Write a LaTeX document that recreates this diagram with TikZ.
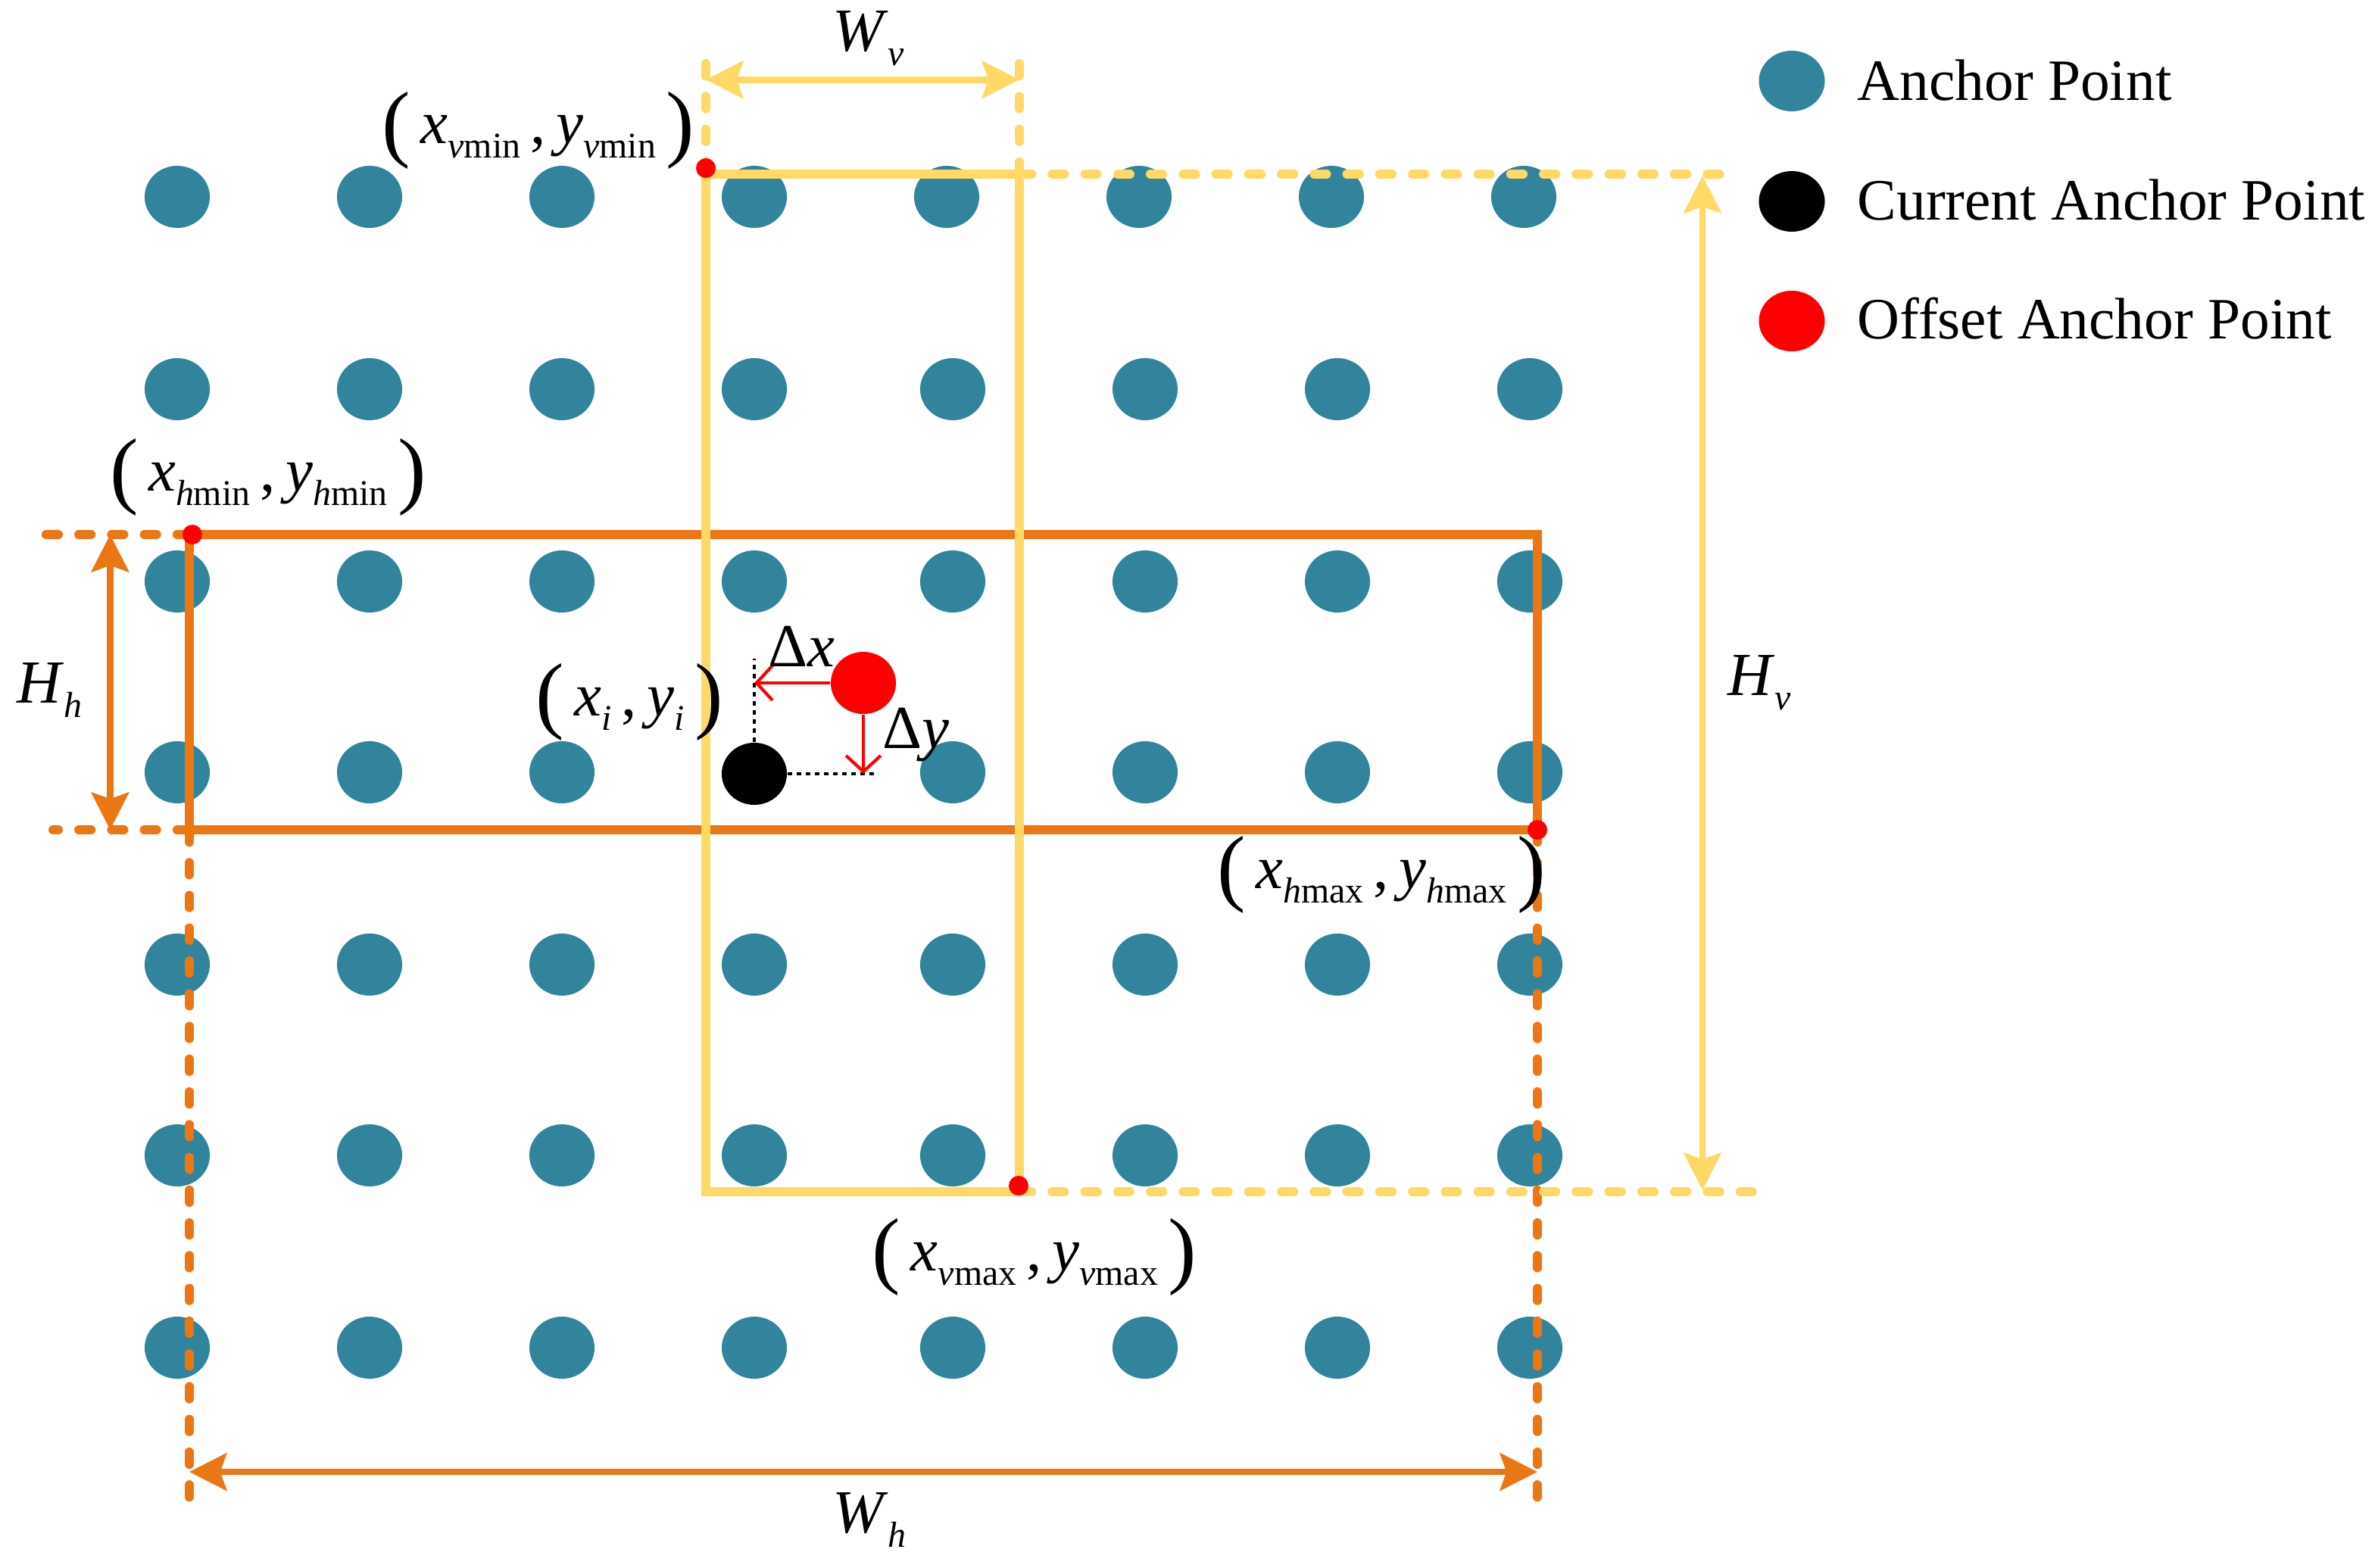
\documentclass[tikz,border=0pt]{standalone}
\usepackage{fontspec}
\setmainfont{Liberation Serif}
\usetikzlibrary{arrows.meta,shapes.geometric}
\definecolor{anc}{RGB}{49,132,155}
\definecolor{yel}{RGB}{255,217,102}
\definecolor{org}{RGB}{235,118,20}
\newcommand\Lpr{\raisebox{-1.4pt}{\fontsize{16}{16}\selectfont(}}
\newcommand\Rpr{\raisebox{-1.4pt}{\fontsize{16}{16}\selectfont)}}
\newcommand\Sb[1]{\raisebox{-2.7pt}{\fontsize{6.8}{7}\selectfont #1}}
\newcommand\Mx{\fontsize{11.5}{13}\selectfont}
\begin{document}
\begin{tikzpicture}[x=0.01cm,y=-0.01cm,
  apt/.style={ellipse, fill=anc, minimum width=0.43cm, minimum height=0.41cm, inner sep=0pt},
  cpt/.style={apt, fill=black},
  opt/.style={apt, fill=red},
  lgdot/.style={ellipse, minimum width=0.435cm, minimum height=0.40cm, inner sep=0pt},
  corner/.style={circle, fill=red, minimum size=0.13cm, inner sep=0pt},
  yrect/.style={draw=yel, line width=1.75pt},
  orect/.style={draw=org, line width=1.75pt},
  ydash/.style={draw=yel, line width=1.7pt, line cap=round, dash pattern=on 2.3pt off 3.85pt},
  odash/.style={draw=org, line width=1.7pt, line cap=round, dash pattern=on 2.3pt off 3.85pt},
  yarr/.style={draw=yel, line width=1.25pt, {Stealth[length=7pt,width=7pt,inset=1.2pt]}-{Stealth[length=7pt,width=7pt,inset=1.2pt]}},
  oarr/.style={draw=org, line width=1.25pt, {Stealth[length=7pt,width=7pt,inset=1.2pt]}-{Stealth[length=7pt,width=7pt,inset=1.2pt]}},
  rarr/.style={draw=red, line width=0.6pt, -{Straight Barb[length=3pt,width=6.5pt]}},
  dotln/.style={draw=black, line width=0.5pt, dash pattern=on 0.8pt off 0.9pt},
  lab/.style={inner sep=0pt, font=\Mx},
  lgtext/.style={inner sep=0pt, anchor=base west, font=\fontsize{11}{13}\selectfont}]
\useasboundingbox (0,0) rectangle (1568,1035.5);

% ---- anchor grid ----
\foreach \c/\x in {1/117,2/244,3/371,4/498,5/625,6/752,7/879,8/1006}
  \node[apt] (p-1-\c) at (\x,130) {};
\foreach \r/\y in {2/257,3/384,4/510,5/637,6/763,7/890}
  \foreach \c/\x in {1/117,2/244,3/371,4/498,5/629,6/756,7/883,8/1010}{
    \ifnum\r=4 \ifnum\c=4 \else \node[apt] (p-\r-\c) at (\x,\y) {}; \fi
    \else \node[apt] (p-\r-\c) at (\x,\y) {}; \fi
  }
\node[cpt] (cur) at (498,511) {};
\node[opt] (off) at (570,451) {};

% ---- corner coordinates ----
\coordinate (hTL) at (125,353);
\coordinate (hTR) at (1015,353);
\coordinate (hBR) at (1015,548);
\coordinate (hBL) at (125,548);
\coordinate (vTL) at (466,115);
\coordinate (vTR) at (673,115);
\coordinate (vBR) at (673,787);
\coordinate (vBL) at (466,787);

% ---- orange (horizontal) box ----
\draw[odash] (hTL) -- (28,353);
\draw[odash] (hBL) -- (35,548);
\draw[odash] (hBL) -- (125,997);
\draw[odash] (hBR) -- (1015,997);
\draw[orect] (hTL) -- (hTR) -- (hBR) -- (hBL) -- cycle;
\coordinate (hhT) at (72.7,353);
\coordinate (hhB) at (72.7,548);
\draw[oarr] (hhT) -- (hhB);
\coordinate (whL) at (125,972);
\coordinate (whR) at (1015,972);
\draw[oarr] (whL) -- (whR);

% ---- yellow (vertical) box ----
\draw[ydash] (vTR) -- (1144,115);
\draw[ydash] (vBR) -- (1163,787);
\draw[ydash] (vTL) -- (466,40);
\draw[ydash] (vTR) -- (673,40);
\draw[yrect] (vTL) -- (vTR) -- (vBR) -- (vBL) -- cycle;
\coordinate (wvL) at (466,52.6);
\coordinate (wvR) at (673,52.6);
\draw[yarr] (wvL) -- (wvR);
\coordinate (hvT) at (1124,116);
\coordinate (hvB) at (1124,786);
\draw[yarr] (hvT) -- (hvB);

% ---- corner markers ----
\node[corner] (cvmin) at (466,111) {};
\node[corner] (chmin) at (127,353) {};
\node[corner] (chmax) at (1015,548) {};
\node[corner] (cvmax) at (672.5,783) {};

% ---- offset construction ----
\coordinate (dxEnd) at (498,451);
\coordinate (dyEnd) at (570,511);
\coordinate (vdTop) at (498,435);
\coordinate (hdEnd) at (580,511);
\draw[dotln] (cur.north) -- (vdTop);
\draw[dotln] (cur.east) -- (hdEnd);
\draw[rarr] (off.west) -- (dxEnd);
\draw[rarr] (off.south) -- (dyEnd);

% ---- labels ----
\node[lab, anchor=base] (lvmin) at (355.5,94.7) {\Lpr\,\textit{x}\Sb{\textit{v}min}\,,\,\textit{y}\Sb{\textit{v}min}\,\Rpr};
\node[lab, anchor=base] (lhmin) at (177,324) {\Lpr\,\textit{x}\Sb{\textit{h}min}\,,\,\textit{y}\Sb{\textit{h}min}\,\Rpr};
\node[lab, anchor=base] (lhmax) at (912,586.5) {\Lpr\,\textit{x}\Sb{\textit{h}max}\,,\,\textit{y}\Sb{\textit{h}max}\,\Rpr};
\node[lab, anchor=base] (lvmax) at (683,839) {\Lpr\,\textit{x}\Sb{\textit{v}max}\,,\,\textit{y}\Sb{\textit{v}max}\,\Rpr};
\node[lab, anchor=base] (lxi) at (415.5,472.5) {\Lpr\,\textit{x}\Sb{\textit{i}}\,,\,\textit{y}\Sb{\textit{i}}\,\Rpr};
\node[lab, anchor=base west] (ldx) at (506.6,440) {Δ\textit{x}};
\node[lab, anchor=base west] (ldy) at (582,494) {Δ\textit{y}};
\node[lab, anchor=base west] (lwv) at (549,33.5) {\textit{W}\Sb{\textit{v}}};
\node[lab, anchor=base west] (lwh) at (549,1012) {\textit{W}\Sb{\textit{h}}};
\node[lab, anchor=base west] (lhh) at (10.5,464) {\textit{H}\Sb{\textit{h}}};
\node[lab, anchor=base west] (lhv) at (1140,459) {\textit{H}\Sb{\textit{v}}};

% ---- legend ----
\node[lgdot, fill=anc] (lg1) at (1183,53.5) {};
\node[lgdot, fill=black] (lg2) at (1183,133) {};
\node[lgdot, fill=red] (lg3) at (1183,212) {};
\node[lgtext] (lt1) at (1225.7,66) {Anchor Point};
\node[lgtext] (lt2) at (1225.7,145) {Current Anchor Point};
\node[lgtext] (lt3) at (1225.7,223.5) {Offset Anchor Point};
\end{tikzpicture}
\end{document}
